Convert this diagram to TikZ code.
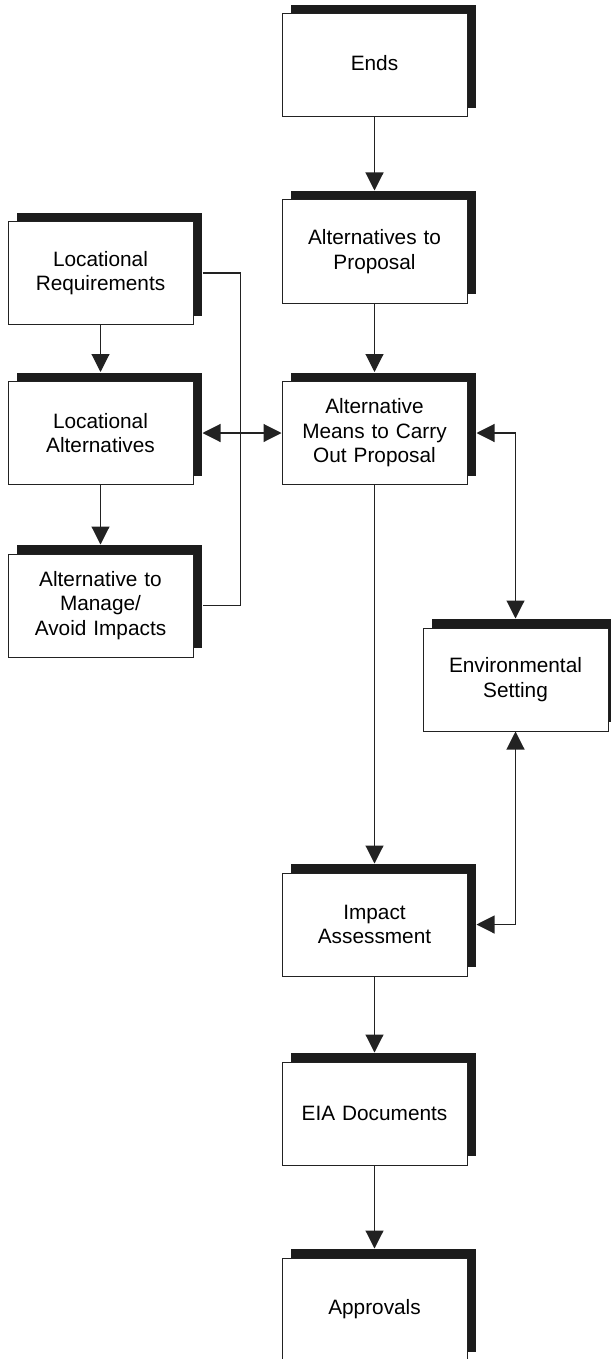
\documentclass[tikz,border=0pt]{standalone}
\usepackage{fontspec}
\setmainfont{Liberation Sans}
\usetikzlibrary{arrows.meta,shadows}
\definecolor{ink}{HTML}{222222}
\definecolor{shade}{HTML}{1C1C1C}
\begin{document}
\begin{tikzpicture}[x=1pt,y=-1pt,
  box/.style={draw=ink, line width=1pt, fill=white,
    minimum width=185pt, minimum height=103pt, inner sep=0pt,
    align=center, text width=180pt,
    font=\fontsize{20.8pt}{24.5pt}\selectfont,
    general shadow={fill=shade, shadow xshift=9pt, shadow yshift=9pt}},
  link/.style={draw=ink, line width=1.1pt},
  arr/.style={link, -{Triangle[length=18pt,width=18pt]}},
  darr/.style={link, {Triangle[length=18pt,width=18pt]}-{Triangle[length=18pt,width=18pt]}}]
\useasboundingbox (0,0) rectangle (610,1359);

% main column
\node[box] (ends)    at (374.5,65.5)   {\raisebox{6pt}{Ends}};
\node[box] (altprop) at (374.5,251.5)  {Alternatives to\\Proposal};
\node[box] (means)   at (374.5,433)    {Alternative\\Means to Carry\\Out Proposal};
\node[box] (impact)  at (374.5,924.5)  {Impact\\Assessment};
\node[box] (eia)     at (374.5,1113.5) {EIA Documents};
\node[box] (appr)    at (374.5,1309.5) {\raisebox{3pt}{Approvals}};

% left column
\node[box] (locreq)  at (100.5,273)    {Locational\\Requirements};
\node[box] (localt)  at (100.5,433)    {Locational\\Alternatives};
\node[box] (manage)  at (100.5,605.5)  {Alternative to\\Manage/\\Avoid Impacts};

% right side
\node[box] (env)     at (515.5,679.5)  {Environmental\\Setting};

% flow down the main column
\draw[arr] (ends.south)    -- ([yshift=9pt]altprop.north);
\draw[arr] (altprop.south) -- ([yshift=9pt]means.north);
\draw[arr] (means.south)   -- ([yshift=9pt]impact.north);
\draw[arr] (impact.south)  -- ([yshift=9pt]eia.north);
\draw[arr] (eia.south)     -- ([yshift=9pt]appr.north);

% flow down the left column
\draw[arr] (locreq.south)  -- ([yshift=9pt]localt.north);
\draw[arr] (localt.south)  -- ([yshift=9pt]manage.north);

% bracket joining the left column
\draw[link] ([xshift=9pt]locreq.east) -- ++(38,0) |- ([xshift=9pt]manage.east);

% two-way links
\draw[darr] ([xshift=9pt]localt.east) -- (means.west);
\draw[darr] ([yshift=9pt]env.north) |- ([xshift=9pt]means.east);
\draw[darr] (env.south) |- ([xshift=9pt]impact.east);
\end{tikzpicture}
\end{document}
